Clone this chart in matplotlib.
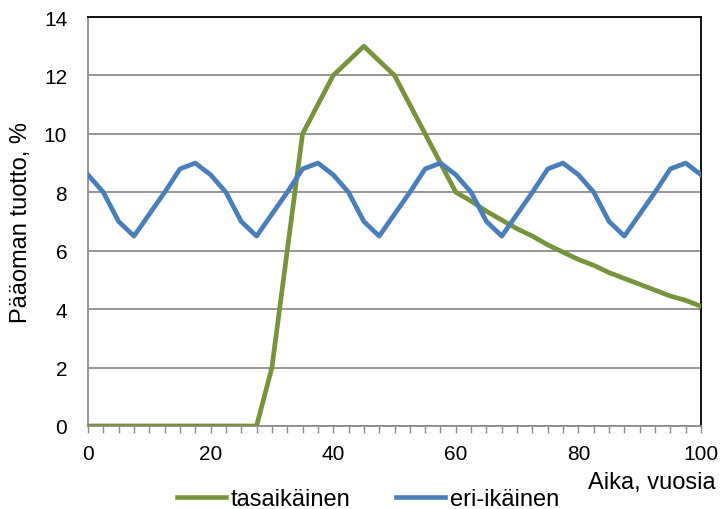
import matplotlib
matplotlib.use("Agg")
import matplotlib.pyplot as plt
import numpy as np

plt.rcParams['font.family'] = ['Liberation Sans', 'DejaVu Sans']

years = [i * 2.5 for i in range(41)]
tasaikainen = [0, 0, 0, 0, 0, 0, 0, 0, 0, 0, 0, 0,
               2.0, 6.0, 10.0, 11.0, 12.0, 12.5, 13.0, 12.5, 12.0,
               11.0, 10.0, 9.0, 8.0, 7.7, 7.35, 7.05, 6.75, 6.5, 6.2,
               5.95, 5.7, 5.5, 5.25, 5.05, 4.85, 4.65, 4.45, 4.3, 4.1]
eri_ikainen = [8.6, 8.0, 7.0, 6.5, 7.25, 8.0, 8.8, 9.0,
               8.6, 8.0, 7.0, 6.5, 7.25, 8.0, 8.8, 9.0,
               8.6, 8.0, 7.0, 6.5, 7.25, 8.0, 8.8, 9.0,
               8.6, 8.0, 7.0, 6.5, 7.25, 8.0, 8.8, 9.0,
               8.6, 8.0, 7.0, 6.5, 7.25, 8.0, 8.8, 9.0,
               8.6]
x_ticks = [0, 20, 40, 60, 80, 100]
y_ticks = [0, 2, 4, 6, 8, 10, 12, 14]

fig = plt.figure(figsize=(7.21, 5.10), dpi=100)
ax = fig.add_axes([88/721, 1-427/510, (701-88)/721, (427-18)/510])

ax.plot(years, tasaikainen, color='#77933C', lw=3.4, label='tasaikäinen', solid_joinstyle='round', zorder=3)
ax.plot(years, eri_ikainen, color='#4A7EBB', lw=3.4, label='eri-ikäinen', solid_joinstyle='round', zorder=3)

ax.set_xlim(0, 100)
ax.set_ylim(0, 14)
ax.set_xticks(x_ticks)
ax.set_xticks(np.arange(0, 100.1, 2.5), minor=True)
ax.set_yticks(y_ticks)
ax.yaxis.grid(True, color='#8C8C8C', lw=1.3)
ax.set_axisbelow(True)
ax.tick_params(axis='x', which='both', direction='out', length=5, width=1, color='#8C8C8C', labelsize=15, pad=8)
ax.tick_params(axis='y', which='both', length=0, labelsize=15, pad=15)
for s in ['left', 'bottom']:
    ax.spines[s].set_color('#8C8C8C')
    ax.spines[s].set_linewidth(1.3)
for s in ['top', 'right']:
    ax.spines[s].set_color('black')
    ax.spines[s].set_linewidth(1.3)

ax.set_ylabel('Pääoman tuotto, %', fontsize=17)
ax.yaxis.set_label_coords(-(88 - 32) / 613, 0.5)
fig.text(716/721, 1-483/510, 'Aika, vuosia', fontsize=17, ha='right', va='center')

leg = fig.legend(loc='center', bbox_to_anchor=(368/721, 1-500/510), ncol=2, frameon=False,
                 fontsize=17, handlelength=2.1, handletextpad=0.2, columnspacing=1.9,
                 borderpad=0.1)
for line in leg.get_lines():
    line.set_linewidth(3.3)

fig.savefig('out.png', dpi=100)
